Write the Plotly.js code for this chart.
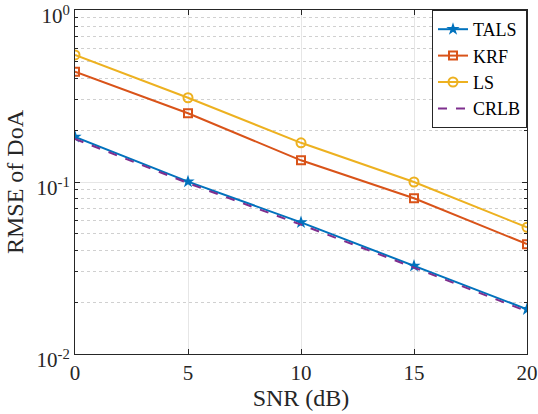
<!DOCTYPE html>
<html>
<head>
<meta charset="utf-8">
<script src="https://cdn.plot.ly/plotly-3.0.1.min.js"></script>
<style>
	body{margin:0;padding:0;background:#fff;}
	#plot{width:538px;height:414px;}
</style>
</head>
<body>
<div id="plot"></div>
<script>

// SNR points (dB)
var snr = [0, 5, 10, 15, 20];

// RMSE values
var tals = [0.183, 0.1005, 0.0582, 0.0325, 0.0182];
var krf  = [0.438, 0.251, 0.1337, 0.0805, 0.0435];
var ls   = [0.548, 0.309, 0.169, 0.1, 0.0545];
var crlb = [0.178, 0.0985, 0.0565, 0.0318, 0.0177];

var names = ['TALS', 'KRF', 'LS', 'CRLB'];
var colors = ['#0072BD', '#D95319', '#EDB120', '#7E2F8E'];

var yTickVals = [1, 0.1, 0.01];
var yTickText = ['10<sup>0</sup>', '10<sup>-1</sup>', '10<sup>-2</sup>'];

// minor ticks on log axis: 2..9 in each decade
var minorVals = [];
for(var d = -2; d < 0; d++){
	for(var k = 2; k <= 9; k++){
		minorVals.push(k * Math.pow(10, d));
	}
}

var font = '"Liberation Serif", "Times New Roman", serif';

var data = [
	{
		x: snr, y: tals, name: names[0], type: 'scatter', mode: 'lines+markers',
		line: {color: colors[0], width: 2},
		marker: {symbol: 'star', size: 10, color: colors[0]}
	},
	{
		x: snr, y: krf, name: names[1], type: 'scatter', mode: 'lines+markers',
		line: {color: colors[1], width: 2},
		marker: {symbol: 'square-open', size: 8, color: colors[1], line: {width: 2}}
	},
	{
		x: snr, y: ls, name: names[2], type: 'scatter', mode: 'lines+markers',
		line: {color: colors[2], width: 2},
		marker: {symbol: 'circle-open', size: 9, color: colors[2], line: {width: 2}}
	},
	{
		x: snr, y: crlb, name: names[3], type: 'scatter', mode: 'lines',
		line: {color: colors[3], width: 2, dash: 'dash'}
	}
];

var layout = {
	width: 538,
	height: 414,
	margin: {l: 75, r: 11, t: 10, b: 60, pad: 0},
	paper_bgcolor: '#fff',
	plot_bgcolor: '#fff',
	font: {family: font, size: 20, color: '#262626'},
	showlegend: true,
	legend: {
		x: 1, y: 1, xanchor: 'right', yanchor: 'top',
		bgcolor: '#fff', bordercolor: '#262626', borderwidth: 1,
		font: {family: font, size: 18, color: '#000'},
		tracegroupgap: 0, itemwidth: 30
	},
	xaxis: {
		range: [0, 20],
		tickvals: snr,
		ticks: 'inside', ticklen: 5, tickcolor: '#262626',
		showline: true, linecolor: '#262626', linewidth: 1, mirror: 'ticks',
		showgrid: true, gridcolor: '#e6e6e6', gridwidth: 1,
		zeroline: false,
		tickfont: {family: font, size: 21, color: '#262626'},
		title: {text: 'SNR (dB)', font: {family: font, size: 24, color: '#262626'}, standoff: 4}
	},
	yaxis: {
		type: 'log',
		range: [-2.0002, 0.0002],
		tickvals: yTickVals,
		ticktext: yTickText,
		ticklabeloverflow: 'allow',
		ticklabelshift: 6,
		ticks: 'inside', ticklen: 5, tickcolor: '#262626',
		showline: true, linecolor: '#262626', linewidth: 1, mirror: 'ticks',
		showgrid: true, gridcolor: '#e6e6e6', gridwidth: 1,
		zeroline: false,
		tickfont: {family: font, size: 21, color: '#262626'},
		minor: {
			tickmode: 'array', tickvals: minorVals,
			ticks: 'inside', ticklen: 3, tickcolor: '#262626',
			showgrid: true, gridcolor: '#d0d0d0', griddash: 'dot', gridwidth: 1
		},
		title: {text: 'RMSE of DoA', font: {family: font, size: 24, color: '#262626'}, standoff: 6}
	}
};

Plotly.newPlot('plot', data, layout, {staticPlot: true, displayModeBar: false});
</script>
</body>
</html>
